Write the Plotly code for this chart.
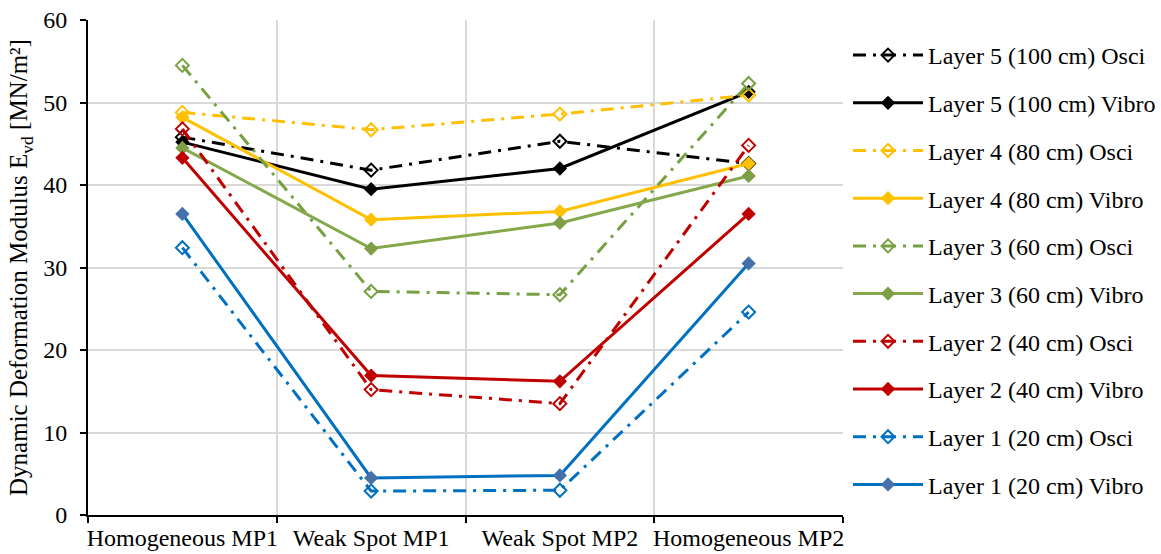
import plotly.graph_objects as go

# Measurement points along the test track
points = ["Homogeneous MP1", "Weak Spot MP1", "Weak Spot MP2", "Homogeneous MP2"]

# Dynamic deformation modulus Evd [MN/m²] per layer and compaction method
layer5_osci = [45.8, 41.8, 45.3, 42.6]
layer5_vibro = [45.2, 39.5, 42.0, 51.3]
layer4_osci = [48.8, 46.7, 48.6, 50.9]
layer4_vibro = [48.2, 35.8, 36.8, 42.6]
layer3_osci = [54.5, 27.1, 26.7, 52.3]
layer3_vibro = [44.5, 32.3, 35.4, 41.1]
layer2_osci = [46.8, 15.2, 13.5, 44.8]
layer2_vibro = [43.3, 16.9, 16.2, 36.5]
layer1_osci = [32.4, 2.9, 3.0, 24.6]
layer1_vibro = [36.5, 4.5, 4.8, 30.5]

series = [
    ("Layer 5 (100 cm) Osci", layer5_osci, "#000000", "#000000", True),
    ("Layer 5 (100 cm) Vibro", layer5_vibro, "#000000", "#000000", False),
    ("Layer 4 (80 cm) Osci", layer4_osci, "#FFC000", "#FFC000", True),
    ("Layer 4 (80 cm) Vibro", layer4_vibro, "#FFC000", "#FFC000", False),
    ("Layer 3 (60 cm) Osci", layer3_osci, "#77A043", "#77A043", True),
    ("Layer 3 (60 cm) Vibro", layer3_vibro, "#86A84C", "#7E9F46", False),
    ("Layer 2 (40 cm) Osci", layer2_osci, "#C00000", "#C00000", True),
    ("Layer 2 (40 cm) Vibro", layer2_vibro, "#C00000", "#C00000", False),
    ("Layer 1 (20 cm) Osci", layer1_osci, "#0070C0", "#0070C0", True),
    ("Layer 1 (20 cm) Vibro", layer1_vibro, "#0070C0", "#4670AA", False),
]

FONT = "Liberation Serif"

fig = go.Figure()
for i, (name, vals, line_col, mk_col, osci) in enumerate(series):
    if osci:
        line = dict(color=line_col, width=3, dash="13px,7px,3px,7px")
        marker = dict(symbol="diamond-open", size=10, color=mk_col,
                      line=dict(width=2, color=mk_col))
    else:
        line = dict(color=line_col, width=3)
        marker = dict(symbol="diamond", size=11, color=mk_col,
                      line=dict(width=0))
    fig.add_trace(go.Scatter(
        x=points, y=vals, name=name, mode="lines+markers",
        line=line, marker=marker, legendgroup=f"g{i}",
    ))

fig.update_layout(
    width=1161, height=554,
    margin=dict(l=88, r=318, t=20, b=39, autoexpand=False),
    paper_bgcolor="white", plot_bgcolor="white",
    font=dict(family=FONT, size=24, color="#000000"),
    showlegend=True,
    legend=dict(
        xref="container", yref="container",
        x=848 / 1161, y=1 - 33 / 554, xanchor="left", yanchor="top",
        font=dict(family=FONT, size=24, color="#000000"),
        itemwidth=70, tracegroupgap=13.5, maxheight=540,
        bgcolor="rgba(0,0,0,0)",
    ),
    xaxis=dict(
        type="category", tickson="boundaries", tickangle=0,
        showgrid=True, gridcolor="#D9D9D9", gridwidth=2,
        showline=True, linecolor="#000000", linewidth=2,
        ticks="outside", ticklen=6, tickwidth=2, tickcolor="#000000",
        tickfont=dict(family=FONT, size=24),
        range=[-0.5, 3.5], zeroline=False,
    ),
    yaxis=dict(
        range=[0, 60], dtick=10,
        showgrid=True, gridcolor="#D9D9D9", gridwidth=2,
        showline=True, linecolor="#000000", linewidth=2,
        ticks="outside", ticklen=6, tickwidth=2, tickcolor="#000000",
        tickfont=dict(family=FONT, size=24), ticklabelstandoff=8,
        zeroline=False,
        title=dict(text="Dynamic Deformation Modulus E<sub>vd</sub> [MN/m²]",
                   font=dict(family=FONT, size=25), standoff=8),
    ),
)

fig.write_html("out.html")
